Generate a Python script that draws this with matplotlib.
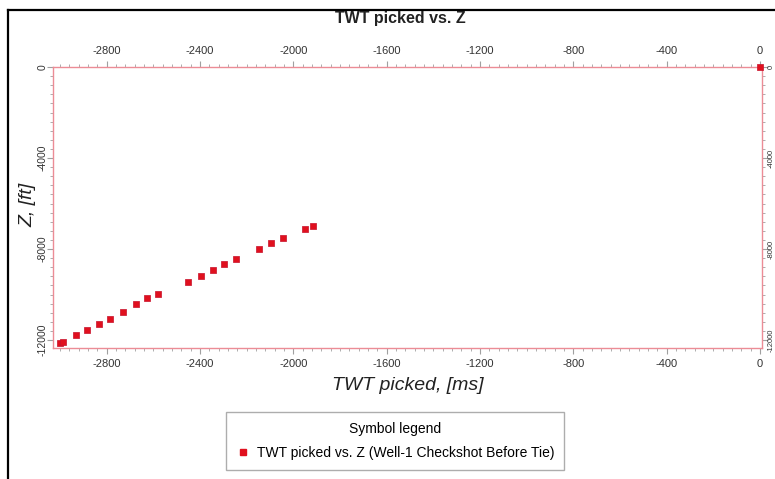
import matplotlib
matplotlib.use("Agg")
import matplotlib.pyplot as plt
from matplotlib.lines import Line2D
from matplotlib.ticker import MultipleLocator

plt.rcParams['font.family'] = ['Liberation Sans', 'DejaVu Sans']
plt.rcParams['axes.unicode_minus'] = False

twt = [-2998, -2987, -2933, -2884, -2835, -2784, -2732, -2675, -2629, -2581,
       -2452, -2397, -2346, -2298, -2247, -2149, -2098, -2046, -1949, -1918, 0]
z = [-12146, -12076, -11781, -11561, -11311, -11078, -10757, -10432, -10168, -9966,
     -9465, -9188, -8924, -8673, -8440, -7988, -7750, -7530, -7108, -6990, 0]
xticks = [-2800, -2400, -2000, -1600, -1200, -800, -400, 0]
yticks = [0, -4000, -8000, -12000]
series_label = "TWT picked vs. Z (Well-1 Checkshot Before Tie)"

W, H = 775, 479
fig = plt.figure(figsize=(W / 100, H / 100), dpi=100)
ax = fig.add_axes([53 / W, 1 - 348 / H, (762 - 53) / W, (348 - 67) / H])

ax.scatter(twt, z, marker='s', s=24, color='#e0101e', edgecolors='#c8102a',
           linewidths=0.5, zorder=3, label=series_label, clip_on=False)
ax.set_xlim(-3030, 8)
ax.set_ylim(-12350, 0)

ax.set_xticks(xticks)
ax.set_yticks(yticks)
ax.xaxis.set_minor_locator(MultipleLocator(40))
ax.yaxis.set_minor_locator(MultipleLocator(400))
ax.tick_params(which='both', top=True, right=True, labeltop=True, labelright=True,
               direction='out', color='#a0a0a0', labelsize=8, labelcolor='#333333')
ax.tick_params(which='major', length=4, width=0.8)
ax.tick_params(which='minor', length=2, width=0.6)
ax.tick_params(axis='x', which='major', pad=4)
ax.tick_params(axis='y', which='major', pad=2, labelsize=7.5)
for t in ax.yaxis.get_major_ticks():
    t.label1.set_rotation(90)
    t.label1.set_va('center')
    t.label1.set_fontsize(7.5)
    t.label2.set_rotation(90)
    t.label2.set_va('center')
    t.label2.set_fontsize(5.5)
    t.tick2line.set_markersize(2)
    t.set_pad(0)
for s in ax.spines.values():
    s.set_color('#ec8c96')
    s.set_linewidth(1.0)

ax.set_xlabel("TWT picked, [ms]", fontsize=14, style='italic', color='#222222', labelpad=6)
ax.set_ylabel("Z, [ft]", fontsize=14, style='italic', color='#222222')
ax.yaxis.set_label_coords((36 - 53) / 709, (348 - 205) / 281)
fig.text(400 / W, 1 - 18 / H, "TWT picked vs. Z", ha='center', va='center',
         fontsize=11.5, fontweight='bold', color='#222222')

leg = fig.legend(handles=[Line2D([], [], marker='s', ls='none', color='#e0101e',
                                 markersize=4, label=series_label)],
                 loc='center', bbox_to_anchor=(395 / W, 1 - 441 / H),
                 title="Symbol legend", fontsize=10, title_fontsize=10,
                 frameon=True, fancybox=False, edgecolor='#999999',
                 handletextpad=0.5, borderpad=0.7, handlelength=1.0,
                 labelspacing=0.6)
leg.get_frame().set_linewidth(1.0)
leg._legend_box.sep = 7

# black outer frame (partially cropped in reference)
fig.add_artist(Line2D([8 / W, 8 / W], [0, 1 - 10 / H], color='black', lw=1.6,
                      transform=fig.transFigure))
fig.add_artist(Line2D([8 / W, 1], [1 - 10 / H, 1 - 10 / H], color='black', lw=1.6,
                      transform=fig.transFigure))

fig.savefig("out.png", dpi=100, facecolor='white')
